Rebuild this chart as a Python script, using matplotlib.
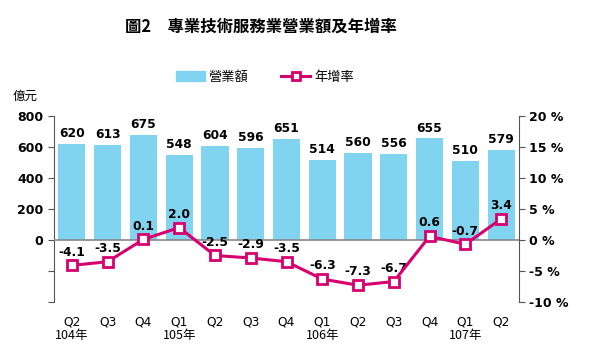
import numpy as np
import matplotlib.pyplot as plt
from matplotlib.patches import Patch
from matplotlib.lines import Line2D

plt.rcParams['font.family'] = ['Noto Sans CJK TC', 'DejaVu Sans']

quarters = ["Q2", "Q3", "Q4", "Q1", "Q2", "Q3", "Q4", "Q1", "Q2", "Q3", "Q4", "Q1", "Q2"]
years = {0: "104年", 3: "105年", 7: "106年", 11: "107年"}
revenue = [620, 613, 675, 548, 604, 596, 651, 514, 560, 556, 655, 510, 579]
growth = [-4.1, -3.5, 0.1, 2.0, -2.5, -2.9, -3.5, -6.3, -7.3, -6.7, 0.6, -0.7, 3.4]

bar_c = "#80D4F0"
line_c = "#D6006F"
x = np.arange(len(revenue))

fig = plt.figure(figsize=(5.9, 3.51), dpi=100)
ax = fig.add_axes([0.0915, 0.1396, 0.7882, 0.53])
ax2 = ax.twinx()

ax.bar(x, revenue, width=0.76, color=bar_c, zorder=2)
ax.axhline(0, color="#888888", lw=1.2, zorder=3)
for i, v in enumerate(revenue):
    ax.text(i, v + 25, str(v), ha="center", va="bottom", fontsize=8.8,
            fontweight="bold", family="DejaVu Sans")

ax2.plot(x, growth, color=line_c, lw=2.2, marker="s", markersize=7,
         markerfacecolor="white", markeredgecolor=line_c, markeredgewidth=2, zorder=4)
for i, v in enumerate(growth):
    ax2.text(i, v + 1.1, f"{v:.1f}", ha="center", va="bottom", fontsize=8.8,
             fontweight="bold", family="DejaVu Sans")

ax.set_xlim(-0.5, len(x) - 0.5)
ax.set_ylim(-400, 800)
ax2.set_ylim(-10, 20)
ax.set_yticks([-400, -200, 0, 200, 400, 600, 800])
ax.set_yticklabels(["", "", "0", "200", "400", "600", "800"])
ax2.set_yticks([-10, -5, 0, 5, 10, 15, 20])
ax2.set_yticklabels([f"{t} %" for t in [-10, -5, 0, 5, 10, 15, 20]])

for a in (ax, ax2):
    a.spines["top"].set_visible(False)
    a.spines["bottom"].set_visible(False)
    a.spines["left"].set_color("#555555")
    a.spines["right"].set_color("#555555")
    a.tick_params(axis="y", length=4, color="#555555", labelsize=9)
    for lab in a.get_yticklabels():
        lab.set_fontweight("bold")
        lab.set_family("DejaVu Sans")
ax2.spines["left"].set_visible(False)
ax.spines["right"].set_visible(False)

ax.set_xticks(x)
ax.set_xticklabels(quarters, fontsize=8.8, family="DejaVu Sans")
ax.tick_params(axis="x", length=0, pad=10)
for i, y in years.items():
    ax.text(i, -0.18, y, transform=ax.get_xaxis_transform(), ha="center",
            va="center", fontsize=9)

fig.text(0.442, 0.923, "圖2　專業技術服務業營業額及年增率", ha="center", va="center",
         fontsize=11.8, fontweight="bold")
fig.text(0.022, 0.725, "億元", ha="left", va="center", fontsize=9)

handles = [Patch(color=bar_c, label="營業額"),
           Line2D([], [], color=line_c, lw=2.2, marker="s", markersize=6,
                  markerfacecolor="white", markeredgewidth=2, label="年增率")]
fig.legend(handles=handles, loc="center", bbox_to_anchor=(0.449, 0.78), ncol=2,
           frameon=False, fontsize=9.5, handlelength=2.2, columnspacing=2.5,
           handletextpad=0.3)

fig.savefig("out.png", dpi=100)
